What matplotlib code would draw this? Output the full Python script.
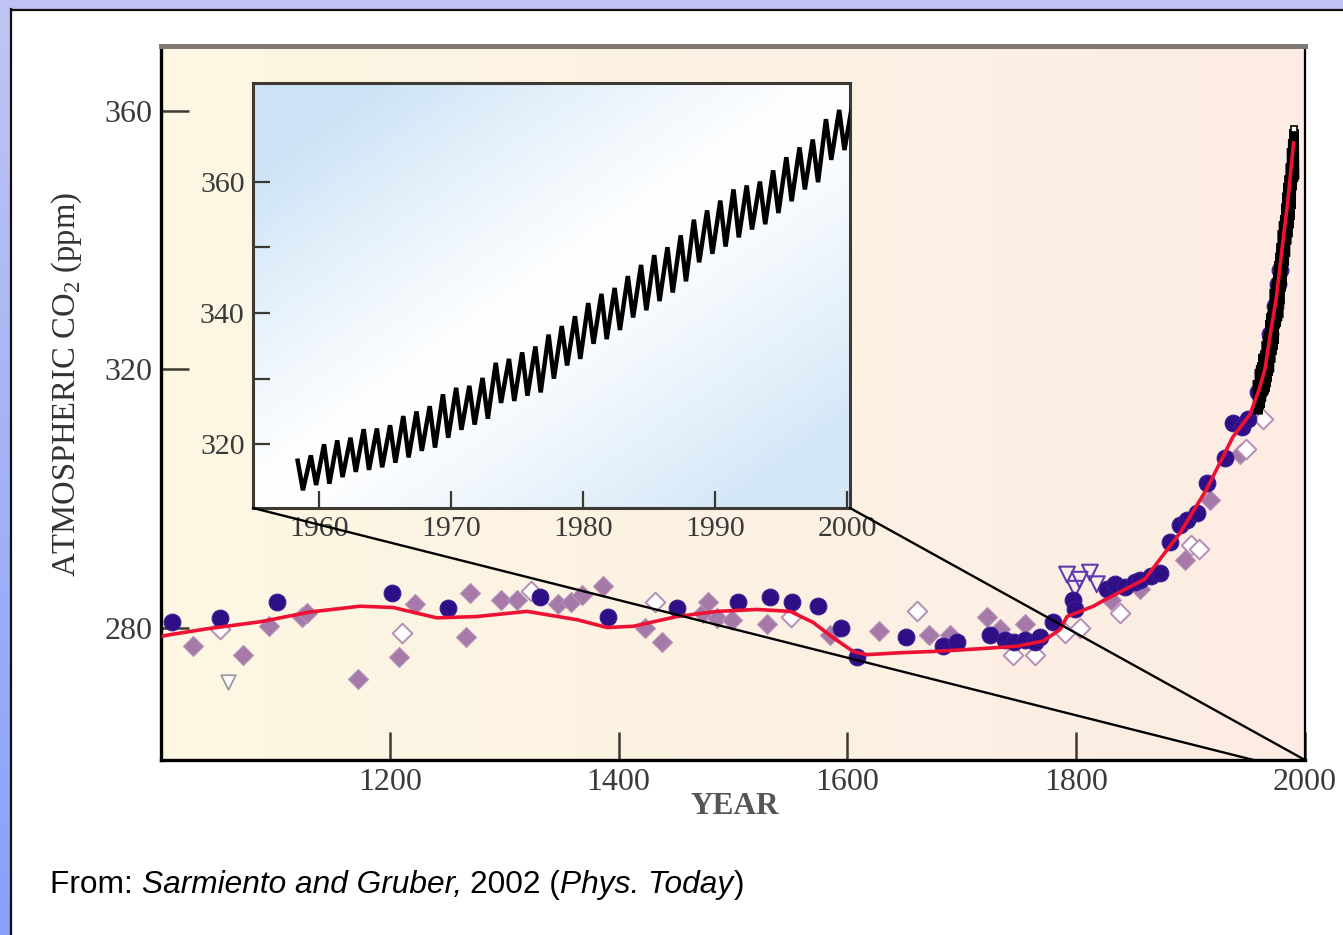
import numpy as np
import matplotlib
matplotlib.use("Agg")
import matplotlib.pyplot as plt
from matplotlib.patches import Rectangle, ConnectionPatch

plt.rcParams["mathtext.fontset"] = "custom"
plt.rcParams["mathtext.rm"] = "Liberation Serif"

SERIF = "Liberation Serif"
SANS = "Liberation Sans"

# ---------------- Ice-core / firn records (year AD, CO2 ppm) ----------------
lawdome_year = [1010, 1052, 1101, 1202, 1251, 1331, 1391, 1451, 1504, 1532,
                1552, 1574, 1594, 1608, 1651, 1684, 1696, 1725, 1738, 1746,
                1755, 1764, 1768, 1780, 1797, 1799, 1827, 1834, 1843, 1851,
                1856, 1865, 1873, 1882, 1891, 1897, 1906, 1914, 1930, 1937,
                1945, 1950, 1959, 1963, 1969, 1974, 1976, 1978]
lawdome_ppm = [280.8, 281.5, 283.9, 285.3, 283.1, 284.8, 281.7, 283.1, 283.9, 284.8,
               284.0, 283.4, 280.0, 275.5, 278.5, 277.2, 277.8, 278.9, 278.1, 277.7,
               278.1, 277.7, 278.5, 280.8, 284.3, 282.8, 286.0, 286.7, 286.2, 287.0,
               287.4, 287.9, 288.5, 293.3, 295.9, 296.7, 297.8, 302.4, 306.3, 311.7,
               311.0, 312.2, 316.4, 319.5, 325.4, 329.7, 333.1, 335.4]

other_year = [1028, 1072, 1094, 1123, 1128, 1172, 1208, 1222, 1267, 1270,
              1297, 1311, 1347, 1358, 1368, 1386, 1423, 1438, 1474, 1478,
              1486, 1499, 1530, 1585, 1628, 1671, 1690, 1722, 1733, 1755,
              1830, 1856, 1895, 1917, 1943]
other_ppm = [277.1, 275.8, 280.2, 281.7, 282.3, 272.0, 275.4, 283.7, 278.6, 285.4,
             284.3, 284.3, 283.6, 283.9, 285.1, 286.5, 280.0, 277.8, 282.3, 284.0,
             281.5, 281.2, 280.5, 278.9, 279.5, 278.8, 278.9, 281.7, 279.7, 280.5,
             284.3, 285.9, 290.5, 299.8, 306.8]

open_year = [1052, 1211, 1323, 1432, 1551, 1661, 1745, 1764, 1790, 1803,
             1838, 1900, 1907, 1948, 1963]
open_ppm = [279.7, 279.1, 285.6, 283.9, 281.7, 282.5, 275.8, 275.8, 279.2, 280.0,
            282.3, 292.8, 292.1, 307.6, 312.2]

firn_year = [1792, 1799, 1803, 1812, 1818]
firn_ppm = [288.2, 286.0, 287.4, 288.5, 286.7]

low_year = [1059]
low_ppm = [271.5]

# Smoothed fit through all records
fit_year = [1002, 1008, 1040, 1087, 1130, 1174, 1203, 1241, 1276, 1320,
            1364, 1390, 1413, 1451, 1486, 1521, 1550, 1570, 1587, 1605,
            1617, 1646, 1675, 1705, 1748, 1771, 1786, 1792, 1815, 1821,
            1860, 1891, 1914, 1937, 1952, 1960, 1965, 1970, 1975, 1980,
            1985, 1990]
fit_ppm = [278.7, 278.9, 279.8, 280.9, 282.4, 283.3, 283.1, 281.5, 281.7, 282.5,
           281.2, 280.0, 280.2, 281.7, 282.5, 282.8, 282.5, 280.8, 278.5, 276.3,
           275.8, 276.1, 276.3, 276.6, 277.1, 277.9, 279.7, 281.7, 283.3, 283.9,
           287.5, 294.7, 301.4, 309.5, 313.0, 316.9, 320.0, 325.7, 331.1, 338.7,
           346.0, 355.0]

# ---------------- Mauna Loa record: seasonal highs and lows ----------------
mlo_year = list(range(1958, 2001))
mlo_high = [317.5, 318.3, 320.0, 320.6, 321.0, 322.3, 322.4, 322.9, 324.3, 325.0,
            325.8, 327.6, 328.6, 328.9, 330.1, 332.4, 333.0, 334.0, 334.9, 336.7,
            338.0, 339.5, 341.5, 342.9, 343.8, 345.6, 347.3, 348.8, 350.0, 351.8,
            354.2, 355.6, 357.1, 358.8, 359.4, 360.0, 361.7, 363.7, 365.2, 366.4,
            369.5, 370.9, 371.8]
mlo_low = [313.0, 313.8, 314.0, 315.0, 315.8, 316.1, 316.5, 317.2, 318.0, 319.0,
           319.5, 321.0, 322.2, 323.0, 323.9, 326.3, 326.6, 327.4, 327.9, 330.0,
           332.0, 333.0, 335.3, 336.0, 337.4, 339.3, 340.4, 341.8, 343.1, 344.8,
           347.7, 349.0, 350.1, 351.5, 352.7, 353.5, 355.2, 357.0, 358.8, 359.9,
           363.3, 364.8, 365.5]
main_record_end = 1990

# Interleave into a zigzag: spring maximum, autumn minimum
mlo_t, mlo_v = [], []
for yr, hi, lo in zip(mlo_year, mlo_high, mlo_low):
    mlo_t += [yr + 0.38, yr + 0.78]
    mlo_v += [hi, lo]
mlo_t = np.array(mlo_t)
mlo_v = np.array(mlo_v)

# ---------------- figure ----------------
W, H = 1343, 935
fig = plt.figure(figsize=(W / 100, H / 100), dpi=100)
fig.patch.set_facecolor("white")

# slide frame: lavender top strip, blue gradient left strip, dark rule
frame = fig.add_axes([0, 0, 1, 1], zorder=-10)
frame.set_axis_off()
frame.set_xlim(0, W)
frame.set_ylim(H, 0)
frame.add_patch(Rectangle((0, 0), W, 9, color="#bfc2f2", lw=0))
grad = np.linspace(0, 1, 200)[:, None]
left_cols = np.array([[0.75, 0.77, 0.95]]) * (1 - grad) + np.array([[0.53, 0.63, 0.98]]) * grad
frame.imshow(left_cols[:, None, :], extent=[0, 11, H, 9], aspect="auto", zorder=1)
frame.plot([11, 11], [9, H], color="#111111", lw=1.6, zorder=2)
frame.plot([11, W], [9.5, 9.5], color="#111111", lw=1.6, zorder=2)

# ---------------- main axes ----------------
ax = fig.add_axes([161 / W, 1 - 760 / H, (1305 - 161) / W, (760 - 46) / H])
XMIN, XMAX, YMIN, YMAX = 1000, 2000, 259.5, 370
gx = np.linspace(0, 1, 256)
bg = np.zeros((2, 256, 3))
c0 = np.array([253, 247, 226]) / 255
c1 = np.array([252, 236, 228]) / 255
bg[:, :, :] = c0 * (1 - gx[:, None]) + c1 * gx[:, None]
ax.imshow(bg, extent=[XMIN, XMAX, YMIN, YMAX], aspect="auto", zorder=0)

ax.scatter(low_year, low_ppm, marker="v", s=110, facecolor="white",
           edgecolor="#9a9a9a", lw=1.3, zorder=3)
ax.scatter(other_year, other_ppm, marker="D", s=105, color="#a57aa8",
           edgecolor="#b994b9", lw=0.8, zorder=3)
ax.scatter(open_year, open_ppm, marker="D", s=100, facecolor="white",
           edgecolor="#b48fb4", lw=1.4, zorder=3)
ax.scatter(firn_year, firn_ppm, marker="v", s=130, facecolor="none",
           edgecolor="#5a3cb0", lw=1.5, zorder=4)
ax.scatter(lawdome_year, lawdome_ppm, marker="o", s=145, color="#2e0f85",
           edgecolor="#3b1d95", lw=0.8, zorder=5)

sel = mlo_t <= main_record_end + 1
ax.plot(mlo_t[sel], mlo_v[sel], color="black", lw=7, zorder=6,
        solid_joinstyle="miter")
ax.plot(fit_year, fit_ppm, color="#ee1133", lw=2.6, zorder=7)
ax.plot([mlo_t[sel][-2]], [mlo_v[sel][-2]], marker="s", ms=5, color="white",
        mec="black", mew=1.2, zorder=8)

ax.set_xlim(XMIN, XMAX)
ax.set_ylim(YMIN, YMAX)
ax.set_xticks([1200, 1400, 1600, 1800, 2000])
ax.set_xticklabels(["1200", "1400", "1600", "1800", "2000"])
ax.set_yticks([280, 320, 360])
ax.set_yticklabels(["280", "320", "360"])
ax.tick_params(direction="in", length=20, width=1.8, color="#3c3a36",
               labelsize=23, labelcolor="#3a3a3a", pad=6)
for lab in ax.get_xticklabels() + ax.get_yticklabels():
    lab.set_fontfamily(SERIF)
ax.spines["left"].set_linewidth(2.4)
ax.spines["bottom"].set_linewidth(2.4)
ax.spines["right"].set_linewidth(1.6)
ax.spines["top"].set_linewidth(3.6)
ax.spines["top"].set_color("#7d7873")
for s in ("left", "bottom", "right"):
    ax.spines[s].set_color("black")

fig.text(67 / W, 1 - 385 / H, r"ATMOSPHERIC CO$_\mathrm{2}$ (ppm)",
         rotation=90, ha="center", va="center", fontsize=23.5,
         family=SERIF, color="#333333")
fig.text(735 / W, 1 - 807 / H, "YEAR", ha="center", va="center",
         fontsize=22.5, family=SERIF, weight="bold", color="#555555")

# ---------------- inset: Mauna Loa ----------------
axin = fig.add_axes([253 / W, 1 - 508 / H, (850 - 253) / W, (508 - 83) / H], zorder=2)
IXMIN, IXMAX, IYMIN, IYMAX = 1955, 2000.2, 310.3, 375
u = np.linspace(0, 1, 200)[None, :]
v = np.linspace(0, 1, 150)[:, None]
d = np.clip(np.abs(u + v - 1.0) * 1.25, 0, 1) ** 1.2
d = d * np.where(u + v < 1.0, 1.0, 0.85)
blue = np.array([0.80, 0.89, 0.965])
white = np.array([1.0, 1.0, 1.0])
ibg = white * (1 - d[..., None]) + blue * d[..., None]
axin.imshow(ibg, extent=[IXMIN, IXMAX, IYMIN, IYMAX], aspect="auto",
            origin="upper", zorder=0)
axin.plot(mlo_t, mlo_v, color="black", lw=3.2, zorder=3,
          solid_joinstyle="miter")
axin.set_xlim(IXMIN, IXMAX)
axin.set_ylim(IYMIN, IYMAX)
axin.set_xticks([1960, 1970, 1980, 1990, 2000])
axin.set_xticklabels(["1960", "1970", "1980", "1990", "2000"])
axin.set_yticks([320, 330, 340, 350, 360])
axin.set_yticklabels(["320", "", "340", "", "360"])
axin.tick_params(direction="in", length=12, width=1.6, color="#3a3830",
                 labelsize=21.5, labelcolor="#3a3a3a", pad=6)
for lab in axin.get_xticklabels() + axin.get_yticklabels():
    lab.set_fontfamily(SERIF)
for s in axin.spines.values():
    s.set_linewidth(2.2)
    s.set_color("#3c3a32")

# zoom guides from the inset corners down to the axis
for xa in (IXMIN, IXMAX):
    xb = min(xa, XMAX)
    cp = ConnectionPatch(xyA=(xa, IYMIN), coordsA=axin.transData,
                         xyB=(xb, YMIN), coordsB=ax.transData,
                         color="black", lw=1.7, zorder=3)
    fig.add_artist(cp)

# ---------------- source line ----------------
renderer = fig.canvas.get_renderer()
runs = [("From: ", "normal"), ("Sarmiento and Gruber, ", "italic"),
        ("2002 (", "normal"), ("Phys. Today", "italic"), (")", "normal")]
x0 = 50 / W
y0 = 1 - 893 / H
for txt, st in runs:
    t = fig.text(x0, y0, txt, fontsize=22.8, family=SANS, style=st,
                 color="black", ha="left", va="baseline")
    bb = t.get_window_extent(renderer)
    x0 = fig.transFigure.inverted().transform((bb.x1, bb.y0))[0]

fig.savefig("out.png", dpi=100)
